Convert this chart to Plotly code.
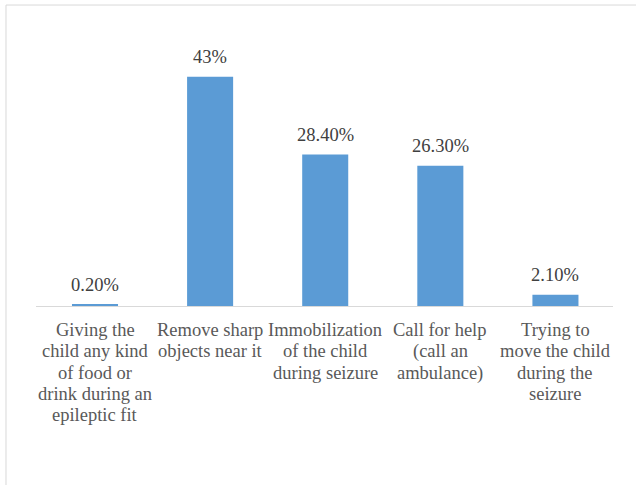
import plotly.graph_objects as go

categories = [
    "Giving the child any kind of food or drink during an epileptic fit",
    "Remove sharp objects near it",
    "Immobilization of the child during seizure",
    "Call for help (call an ambulance)",
    "Trying to move the child during the seizure",
]
category_lines = [
    ["Giving the", "child any kind", "of food or", "drink during an", "epileptic fit"],
    ["Remove sharp", "objects near it"],
    ["Immobilization", "of the child", "during seizure"],
    ["Call for help", "(call an", "ambulance)"],
    ["Trying to", "move the child", "during the", "seizure"],
]
values = [0.2, 43, 28.4, 26.3, 2.1]
value_labels = ["0.20%", "43%", "28.40%", "26.30%", "2.10%"]

FONT = "Liberation Serif"
FS = 18.5
LINE_H = 21.3

fig = go.Figure()
fig.add_trace(go.Bar(
    x=categories, y=values,
    marker=dict(color="#5B9BD5", line=dict(width=0)),
    width=0.4,
    hoverinfo="skip",
))

for c, v, t in zip(categories, values, value_labels):
    fig.add_annotation(x=c, y=v, text=t, showarrow=False, yanchor="bottom",
                       yshift=8, font=dict(family=FONT, size=FS, color="#404040"))

# multi-line category labels with Word-like line spacing
for c, lines in zip(categories, category_lines):
    for i, ln in enumerate(lines):
        fig.add_annotation(x=c, y=0, text=ln, showarrow=False, yanchor="top",
                           yshift=-(12 + i * LINE_H),
                           font=dict(family=FONT, size=FS, color="#595959"))

# chart border
fig.add_shape(type="rect", xref="paper", yref="paper",
              x0=-0.052, x1=1.3, y0=-1.5, y1=1.254,
              line=dict(color="#D9D9D9", width=1), layer="below")

fig.update_layout(
    width=636, height=485,
    margin=dict(l=36, r=23, t=66, b=179),
    paper_bgcolor="white", plot_bgcolor="white",
    showlegend=False,
    font=dict(family=FONT),
    xaxis=dict(
        showline=True, linecolor="#D9D9D9", linewidth=1,
        ticks="", showgrid=False, showticklabels=False,
    ),
    yaxis=dict(visible=False, range=[0, 45], showgrid=False, zeroline=False),
)

fig.write_html("out.html")
